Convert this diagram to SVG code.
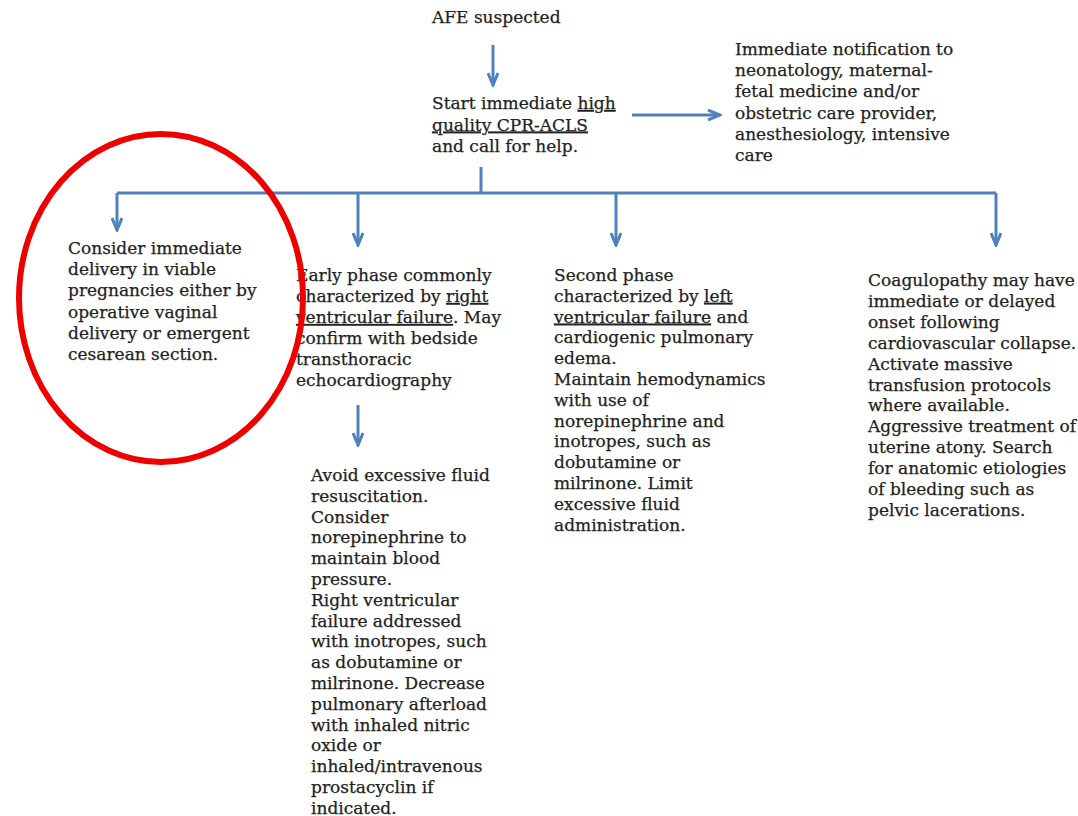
<svg xmlns="http://www.w3.org/2000/svg" width="1078" height="816" viewBox="0 0 1078 816">
<style>
  .t { font-family: "DejaVu Serif", "Liberation Serif", serif; font-size: 17px; fill: #222222; stroke: #222222; stroke-width: 0.25px; }
  .u { text-decoration: underline; }
  .c { stroke: #4f81bd; stroke-width: 3; fill: none; }
</style>
<defs>
  <marker id="ah" viewBox="0 0 16 12" refX="14" refY="6" markerWidth="16" markerHeight="12" markerUnits="userSpaceOnUse" orient="auto">
    <path d="M2,1 L14,6 L2,11" stroke="#4f81bd" stroke-width="3" fill="none"/>
  </marker>
</defs>
<rect width="1078" height="816" fill="#ffffff"/>
<g id="connectors">
  <line class="c" x1="493" y1="45" x2="493" y2="85" marker-end="url(#ah)"/>
  <line class="c" x1="632" y1="115" x2="720" y2="115" marker-end="url(#ah)"/>
  <line class="c" x1="481" y1="167" x2="481" y2="193"/>
  <line class="c" x1="117" y1="193" x2="996" y2="193"/>
  <line class="c" x1="117" y1="193" x2="117" y2="230" marker-end="url(#ah)"/>
  <line class="c" x1="358" y1="193" x2="358" y2="245" marker-end="url(#ah)"/>
  <line class="c" x1="616" y1="193" x2="616" y2="245" marker-end="url(#ah)"/>
  <line class="c" x1="996" y1="193" x2="996" y2="245" marker-end="url(#ah)"/>
  <line class="c" x1="358" y1="405" x2="358" y2="445" marker-end="url(#ah)"/>
</g>
<g id="afe"><text class="t" x="432" y="23">AFE suspected</text></g>
<g id="cpr"><text class="t" x="432" y="109">Start immediate <tspan class="u">high</tspan><tspan x="432" dy="21.5" class="u">quality CPR-ACLS</tspan><tspan x="432" dy="21.5">and call for help.</tspan></text></g>
<g id="notify"><text class="t" x="735" y="55"><tspan x="735">Immediate notification to</tspan><tspan x="735" dy="21.2">neonatology, maternal-</tspan><tspan x="735" dy="21.2">fetal medicine and/or</tspan><tspan x="735" dy="21.2">obstetric care provider,</tspan><tspan x="735" dy="21.2">anesthesiology, intensive</tspan><tspan x="735" dy="21.2">care</tspan></text></g>
<g id="delivery"><text class="t" x="68" y="254"><tspan x="68">Consider immediate</tspan><tspan x="68" dy="21.2">delivery in viable</tspan><tspan x="68" dy="21.2">pregnancies either by</tspan><tspan x="68" dy="21.2">operative vaginal</tspan><tspan x="68" dy="21.2">delivery or emergent</tspan><tspan x="68" dy="21.2">cesarean section.</tspan></text></g>
<g id="early"><text class="t" x="296" y="281"><tspan x="296">Early phase commonly</tspan><tspan x="296" dy="21">characterized by <tspan class="u">right</tspan></tspan><tspan x="296" dy="21"><tspan class="u">ventricular failure</tspan>. May</tspan><tspan x="296" dy="21">confirm with bedside</tspan><tspan x="296" dy="21">transthoracic</tspan><tspan x="296" dy="21">echocardiography</tspan></text></g>
<g id="avoid"><text class="t" x="311" y="481"><tspan x="311">Avoid excessive fluid</tspan><tspan x="311" dy="20.8">resuscitation.</tspan><tspan x="311" dy="20.8">Consider</tspan><tspan x="311" dy="20.8">norepinephrine to</tspan><tspan x="311" dy="20.8">maintain blood</tspan><tspan x="311" dy="20.8">pressure.</tspan><tspan x="311" dy="20.8">Right ventricular</tspan><tspan x="311" dy="20.8">failure addressed</tspan><tspan x="311" dy="20.8">with inotropes, such</tspan><tspan x="311" dy="20.8">as dobutamine or</tspan><tspan x="311" dy="20.8">milrinone. Decrease</tspan><tspan x="311" dy="20.8">pulmonary afterload</tspan><tspan x="311" dy="20.8">with inhaled nitric</tspan><tspan x="311" dy="20.8">oxide or</tspan><tspan x="311" dy="20.8">inhaled/intravenous</tspan><tspan x="311" dy="20.8">prostacyclin if</tspan><tspan x="311" dy="20.8">indicated.</tspan></text></g>
<g id="second"><text class="t" x="554" y="281"><tspan x="554">Second phase</tspan><tspan x="554" dy="20.8">characterized by <tspan class="u">left</tspan></tspan><tspan x="554" dy="20.8"><tspan class="u">ventricular failure</tspan> and</tspan><tspan x="554" dy="20.8">cardiogenic pulmonary</tspan><tspan x="554" dy="20.8">edema.</tspan><tspan x="554" dy="20.8">Maintain hemodynamics</tspan><tspan x="554" dy="20.8">with use of</tspan><tspan x="554" dy="20.8">norepinephrine and</tspan><tspan x="554" dy="20.8">inotropes, such as</tspan><tspan x="554" dy="20.8">dobutamine or</tspan><tspan x="554" dy="20.8">milrinone. Limit</tspan><tspan x="554" dy="20.8">excessive fluid</tspan><tspan x="554" dy="20.8">administration.</tspan></text></g>
<g id="coag"><text class="t" x="868" y="286"><tspan x="868">Coagulopathy may have</tspan><tspan x="868" dy="20.9">immediate or delayed</tspan><tspan x="868" dy="20.9">onset following</tspan><tspan x="868" dy="20.9">cardiovascular collapse.</tspan><tspan x="868" dy="20.9">Activate massive</tspan><tspan x="868" dy="20.9">transfusion protocols</tspan><tspan x="868" dy="20.9">where available.</tspan><tspan x="868" dy="20.9">Aggressive treatment of</tspan><tspan x="868" dy="20.9">uterine atony. Search</tspan><tspan x="868" dy="20.9">for anatomic etiologies</tspan><tspan x="868" dy="20.9">of bleeding such as</tspan><tspan x="868" dy="20.9">pelvic lacerations.</tspan></text></g>
<ellipse cx="161" cy="298" rx="142" ry="164" fill="none" stroke="#ee0000" stroke-width="6"/>
</svg>
